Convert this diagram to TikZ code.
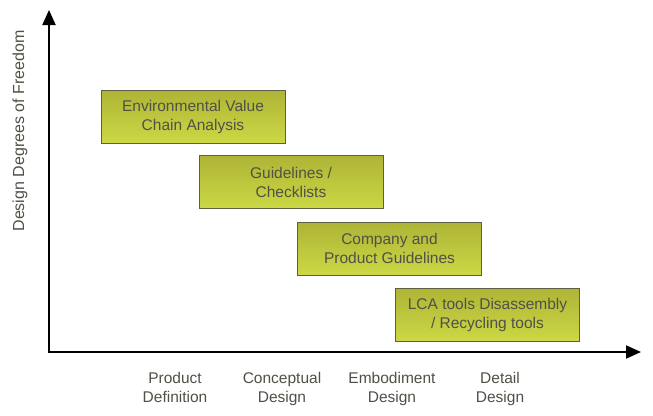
\documentclass[tikz,border=0pt]{standalone}
\usepackage{fontspec}
\setmainfont{Liberation Sans}
\usetikzlibrary{arrows.meta, positioning}
\definecolor{olivetop}{RGB}{174,180,54}
\definecolor{olivebot}{RGB}{204,216,68}
\definecolor{boxline}{RGB}{95,95,70}
\definecolor{txtgrey}{RGB}{80,80,72}

\begin{document}
\begin{tikzpicture}[
  x=1pt, y=-1pt,
  every node/.style={font=\fontsize{15.5}{19}\selectfont, text=txtgrey},
  stage/.style={draw=boxline, line width=0.8pt, top color=olivetop, bottom color=olivebot,
                minimum width=184pt, minimum height=53pt, align=center, inner sep=0pt},
  phase/.style={align=center, anchor=north},
  axis/.style={line width=2pt, -{Triangle[length=15pt, width=13pt]}},
  >=Stealth
]
\useasboundingbox (0,0) rectangle (653,415);

% Axes
\coordinate (origin) at (49,352);
\coordinate (ytop) at (49,10);
\coordinate (xend) at (641,352);
\draw[axis] (origin) -- (ytop);
\draw[axis] ([xshift=-1pt]origin) -- (xend);

\node[rotate=90, font=\fontsize{16}{19}\selectfont] (ylabel) at (20,131) {Design Degrees of Freedom};

% Tool boxes
\node[stage] (evca)    at (193,116.5) {Environmental Value\\Chain Analysis};
\node[stage] (guide)   at (291,182)   {Guidelines /\\Checklists};
\node[stage] (company) at (389.5,248.5) {Company and\\Product Guidelines};
\node[stage] (lca)     at (487.5,314.5) {LCA tools Disassembly\\/ Recycling tools};

% Design phases
\node[phase] (pdef) at (175,369) {Product\\Definition};
\node[phase] (conc) at (282,369) {Conceptual\\Design};
\node[phase] (embo) at (392,369) {Embodiment\\Design};
\node[phase] (deta) at (500,369) {Detail\\Design};

\end{tikzpicture}
\end{document}
